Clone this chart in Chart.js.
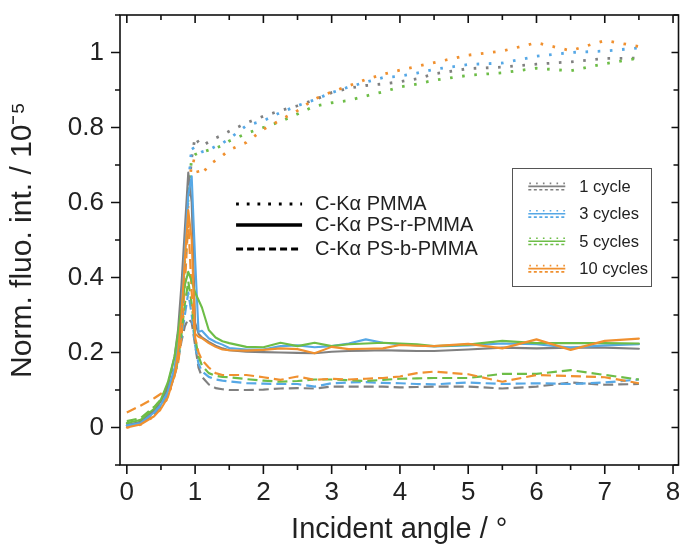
<!DOCTYPE html>
<html>
<head>
<meta charset="utf-8">
<script src="https://cdn.jsdelivr.net/npm/chart.js@4.4.1/dist/chart.umd.min.js"></script>
<style>
    html, body { margin: 0; padding: 0; background: #fff; }
    #chart { display: block; }
</style>
</head>
<body>
<canvas id="chart" width="681" height="547"></canvas>
<script>
// Incident angle grid (degrees), shared by all curves
const angles = [0, 0.2, 0.4, 0.5, 0.6, 0.7, 0.75, 0.8, 0.85, 0.9, 0.95, 1.0, 1.05, 1.1, 1.2,
    1.3, 1.4, 1.5, 1.75, 2.0, 2.25, 2.5, 2.75, 3.0, 3.25, 3.5, 3.75, 4.0, 4.25, 4.5,
    5.0, 5.5, 6.0, 6.5, 7.0, 7.5];

// C-Ka PMMA (dotted)
const pmma1 = [0.005, 0.014, 0.04, 0.06, 0.09, 0.15, 0.2, 0.3, 0.45, 0.62, 0.72, 0.775, 0.76, 0.75, 0.762,
    0.772, 0.78, 0.79, 0.812, 0.83, 0.845, 0.858, 0.874, 0.893, 0.905, 0.912, 0.916, 0.922, 0.93, 0.943,
    0.957, 0.961, 0.969, 0.975, 0.984, 0.985];
const pmma3 = [0.005, 0.012, 0.04, 0.06, 0.09, 0.15, 0.2, 0.3, 0.46, 0.64, 0.75, 0.735, 0.73, 0.735, 0.74,
    0.75, 0.758, 0.77, 0.805, 0.818, 0.84, 0.858, 0.874, 0.893, 0.908, 0.921, 0.933, 0.937, 0.945, 0.955,
    0.968, 0.972, 0.99, 1.0, 1.004, 1.012];
const pmma5 = [0.012, 0.02, 0.05, 0.075, 0.11, 0.16, 0.21, 0.3, 0.45, 0.62, 0.72, 0.728, 0.732, 0.734, 0.74,
    0.745, 0.752, 0.764, 0.784, 0.8, 0.816, 0.836, 0.857, 0.866, 0.872, 0.884, 0.895, 0.908, 0.916, 0.926,
    0.939, 0.946, 0.958, 0.951, 0.97, 0.985];
const pmma10 = [0.0, 0.008, 0.03, 0.05, 0.08, 0.14, 0.19, 0.28, 0.42, 0.6, 0.712, 0.71, 0.675, 0.675, 0.7,
    0.712, 0.725, 0.74, 0.76, 0.795, 0.82, 0.845, 0.876, 0.895, 0.911, 0.928, 0.942, 0.953, 0.963, 0.973,
    0.993, 1.004, 1.026, 1.005, 1.032, 1.016];

// C-Ka PS-r-PMMA (solid)
const random1 = [0.005, 0.015, 0.045, 0.07, 0.11, 0.19, 0.26, 0.38, 0.53, 0.68, 0.6, 0.28, 0.25, 0.24, 0.228,
    0.218, 0.211, 0.206, 0.202, 0.201, 0.2, 0.199, 0.198, 0.202, 0.204, 0.205, 0.206, 0.205, 0.204, 0.204,
    0.208, 0.213, 0.211, 0.213, 0.213, 0.21];
const random3 = [0.005, 0.012, 0.04, 0.06, 0.095, 0.16, 0.22, 0.32, 0.47, 0.62, 0.67, 0.45, 0.255, 0.258, 0.238,
    0.228, 0.221, 0.212, 0.208, 0.208, 0.217, 0.219, 0.214, 0.217, 0.224, 0.235, 0.226, 0.222, 0.219, 0.216,
    0.219, 0.224, 0.222, 0.213, 0.219, 0.222];
const random5 = [0.012, 0.02, 0.05, 0.075, 0.12, 0.19, 0.25, 0.32, 0.38, 0.415, 0.39, 0.36, 0.34, 0.32, 0.26,
    0.24, 0.23, 0.225, 0.215, 0.214, 0.226, 0.217, 0.226, 0.217, 0.222, 0.224, 0.226, 0.224, 0.222, 0.217,
    0.221, 0.231, 0.225, 0.225, 0.225, 0.224];
const random10 = [0.0, 0.008, 0.03, 0.05, 0.08, 0.14, 0.2, 0.3, 0.45, 0.58, 0.5, 0.25, 0.242, 0.238, 0.225,
    0.215, 0.208, 0.206, 0.205, 0.207, 0.211, 0.209, 0.198, 0.215, 0.209, 0.21, 0.211, 0.22, 0.218, 0.217,
    0.223, 0.211, 0.235, 0.207, 0.231, 0.237];

// C-Ka PS-b-PMMA (dashed)
const block1 = [0.005, 0.012, 0.035, 0.055, 0.085, 0.14, 0.18, 0.23, 0.27, 0.29, 0.28, 0.22, 0.16, 0.135, 0.115,
    0.105, 0.102, 0.1, 0.1, 0.101, 0.104, 0.105, 0.104, 0.109, 0.109, 0.109, 0.109, 0.107, 0.108, 0.109,
    0.109, 0.104, 0.109, 0.12, 0.114, 0.116];
const block3 = [0.007, 0.014, 0.04, 0.06, 0.09, 0.14, 0.18, 0.24, 0.3, 0.36, 0.3, 0.22, 0.17, 0.15, 0.135,
    0.128, 0.125, 0.123, 0.118, 0.117, 0.116, 0.116, 0.109, 0.118, 0.12, 0.121, 0.119, 0.118, 0.116, 0.115,
    0.12, 0.116, 0.118, 0.116, 0.12, 0.128];
const block5 = [0.017, 0.025, 0.055, 0.075, 0.1, 0.14, 0.18, 0.25, 0.33, 0.39, 0.33, 0.24, 0.19, 0.165, 0.145,
    0.138, 0.135, 0.134, 0.129, 0.125, 0.122, 0.124, 0.128, 0.128, 0.126, 0.124, 0.127, 0.13, 0.131, 0.132,
    0.132, 0.143, 0.143, 0.153, 0.14, 0.128];
const block10 = [0.04, 0.058, 0.078, 0.09, 0.107, 0.14, 0.17, 0.24, 0.38, 0.55, 0.36, 0.24, 0.2, 0.18, 0.16,
    0.145, 0.14, 0.14, 0.14, 0.134, 0.127, 0.136, 0.127, 0.13, 0.128, 0.13, 0.132, 0.136, 0.145, 0.149,
    0.142, 0.122, 0.14, 0.137, 0.134, 0.118];

const cycleLabels = ['1 cycle', '3 cycles', '5 cycles', '10 cycles'];
const sampleLabels = ['C-K\u03b1 PMMA', 'C-K\u03b1 PS-r-PMMA', 'C-K\u03b1 PS-b-PMMA'];

// Axis ticks
const xTickValues = [0, 1, 2, 3, 4, 5, 6, 7, 8];
const xMinorTicks = [0.5, 1.5, 2.5, 3.5, 4.5, 5.5, 6.5, 7.5];
const yTickValues = [0, 0.2, 0.4, 0.6, 0.8, 1];
const yMinorTicks = [-0.1, 0.1, 0.3, 0.5, 0.7, 0.9, 1.1];

const cycleColors = ['#808080', '#56a8e6', '#6dbd47', '#f0902f'];
const FONT = "'Liberation Sans', Arial, Helvetica, sans-serif";
const TEXT = '#222';

// line styles: dotted, solid, dashed
const lineStyles = [
    { dash: [2.6, 9.6], width: 2.8, cap: 'butt' },
    { dash: [], width: 2.1, cap: 'round' },
    { dash: [10, 5], width: 2.2, cap: 'butt' }
];

const seriesBySample = [
    [pmma1, pmma3, pmma5, pmma10],
    [random1, random3, random5, random10],
    [block1, block3, block5, block10]
];

function toPoints(values) {
    return angles.map((a, i) => ({ x: a, y: values[i] }));
}

// built bottom-to-top, reversed because Chart.js paints index 0 last
const drawOrder = [2, 0, 1];
const datasets = [];
drawOrder.forEach(s => {
    seriesBySample[s].forEach((values, c) => {
        datasets.push({
            label: sampleLabels[s] + ' ' + cycleLabels[c],
            data: toPoints(values),
            borderColor: cycleColors[c],
            borderWidth: lineStyles[s].width,
            borderDash: lineStyles[s].dash,
            borderCapStyle: lineStyles[s].cap,
            borderJoinStyle: 'round',
            pointRadius: 0,
            fill: false,
            tension: 0
        });
    });
});
datasets.reverse();

// frame, tick marks and the two legends
const framePlugin = {
    id: 'frame',
    afterDatasetsDraw(chart) {
        const { ctx, chartArea: a, scales: { x, y } } = chart;
        ctx.save();
        ctx.strokeStyle = '#111';
        ctx.lineWidth = 1.6;
        ctx.setLineDash([]);
        ctx.strokeRect(a.left, a.top, a.right - a.left, a.bottom - a.top);

        ctx.beginPath();
        const xTick = (v, outLen, inLen) => {
            const px = x.getPixelForValue(v);
            ctx.moveTo(px, a.bottom); ctx.lineTo(px, a.bottom + outLen);
            ctx.moveTo(px, a.top); ctx.lineTo(px, a.top + inLen);
        };
        const yTick = (v, outLen, inLen) => {
            const py = y.getPixelForValue(v);
            ctx.moveTo(a.left, py); ctx.lineTo(a.left - outLen, py);
            ctx.moveTo(a.right, py); ctx.lineTo(a.right - inLen, py);
        };
        xTickValues.forEach(v => xTick(v, 9, 8));
        xMinorTicks.forEach(v => xTick(v, 5, 5));
        yTickValues.forEach(v => yTick(v, 9, 7));
        yMinorTicks.forEach(v => yTick(v, 5, 5));
        ctx.stroke();

        // legend of sample (line style)
        const l1x = x.getPixelForValue(1.6);
        const l1y = y.getPixelForValue(0.596);
        ctx.font = '20px ' + FONT;
        ctx.fillStyle = TEXT;
        ctx.textAlign = 'left';
        ctx.textBaseline = 'middle';
        const l1Rows = [0, 21, 45];
        sampleLabels.forEach((label, s) => {
            const yy = l1y + l1Rows[s];
            ctx.strokeStyle = '#000';
            ctx.lineCap = 'butt';
            if (s === 0) { ctx.setLineDash([2.8, 7.9]); ctx.lineWidth = 3; }
            if (s === 1) { ctx.setLineDash([]); ctx.lineWidth = 3.5; }
            if (s === 2) { ctx.setLineDash([7, 4]); ctx.lineWidth = 3; }
            ctx.beginPath();
            ctx.moveTo(l1x, yy);
            ctx.lineTo(l1x + 66, yy);
            ctx.stroke();
            ctx.fillText(label, l1x + 79, yy);
        });

        // legend of cycles (colour), boxed
        const bx0 = x.getPixelForValue(5.646);
        const bx1 = x.getPixelForValue(7.687);
        const by0 = y.getPixelForValue(0.691);
        const by1 = y.getPixelForValue(0.377);
        ctx.setLineDash([]);
        ctx.lineWidth = 1;
        ctx.strokeStyle = '#555';
        ctx.strokeRect(Math.round(bx0) + 0.5, Math.round(by0) + 0.5, Math.round(bx1 - bx0), Math.round(by1 - by0));
        ctx.font = '16.5px ' + FONT;
        cycleLabels.forEach((label, c) => {
            const cy = by0 + 18 + c * 27.4;
            const sx = bx0 + 16;
            ctx.strokeStyle = cycleColors[c];
            ctx.lineWidth = 1.6;
            ctx.setLineDash([1.6, 5.2]);
            ctx.beginPath(); ctx.moveTo(sx + 1, cy - 3); ctx.lineTo(sx + 37, cy - 3); ctx.stroke();
            ctx.setLineDash([]);
            ctx.beginPath(); ctx.moveTo(sx, cy); ctx.lineTo(sx + 37, cy); ctx.stroke();
            ctx.setLineDash([3, 2.5]);
            ctx.beginPath(); ctx.moveTo(sx, cy + 3.3); ctx.lineTo(sx + 37, cy + 3.3); ctx.stroke();
            ctx.fillStyle = TEXT;
            ctx.fillText(label, sx + 51, cy + 1);
        });
        ctx.restore();
    }
};

new Chart(document.getElementById('chart').getContext('2d'), {
    type: 'line',
    data: { datasets: datasets },
    options: {
        responsive: false,
        animation: false,
        devicePixelRatio: 1,
        layout: { padding: { top: 15, right: 2.5, left: 0, bottom: 0 } },
        plugins: {
            legend: { display: false },
            tooltip: { enabled: false }
        },
        scales: {
            x: {
                type: 'linear',
                min: -0.1,
                max: 8.08,
                afterBuildTicks: scale => { scale.ticks = xTickValues.map(v => ({ value: v })); },
                afterFit: scale => {
                    scale.height = 82;
                    scale.paddingLeft = 0;
                    scale.paddingRight = 0;
                },
                grid: { display: false, drawTicks: false },
                border: { display: false },
                ticks: {
                    autoSkip: false,
                    maxRotation: 0,
                    padding: 12,
                    color: TEXT,
                    font: { family: FONT, size: 26 },
                    callback: v => String(v)
                },
                title: {
                    display: true,
                    text: 'Incident angle / \u00b0',
                    color: TEXT,
                    font: { family: FONT, size: 29 },
                    padding: { top: 0, bottom: 0 }
                }
            },
            y: {
                type: 'linear',
                min: -0.1,
                max: 1.1,
                afterBuildTicks: scale => { scale.ticks = yTickValues.map(v => ({ value: v })); },
                afterFit: scale => {
                    scale.width = 120;
                    scale.paddingTop = 0;
                    scale.paddingBottom = 0;
                },
                grid: { display: false, drawTicks: false },
                border: { display: false },
                ticks: {
                    padding: 16,
                    color: TEXT,
                    font: { family: FONT, size: 26 },
                    callback: v => String(+v.toFixed(1))
                },
                title: {
                    display: true,
                    text: 'Norm. fluo. int. / 10\u207b\u2075',
                    color: TEXT,
                    font: { family: FONT, size: 30 },
                    padding: { top: 5, bottom: 0 }
                }
            }
        }
    },
    plugins: [framePlugin]
});
</script>
</body>
</html>
